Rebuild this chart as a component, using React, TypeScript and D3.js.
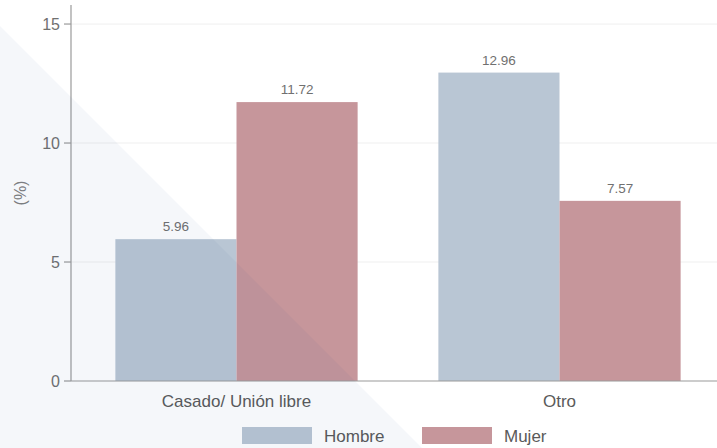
import React from "react";
import * as d3 from "d3";

const categories = ["Casado/ Unión libre", "Otro"];
const series = ["Hombre", "Mujer"];
const hombre = [5.96, 12.96];
const mujer = [11.72, 7.57];
const yTicks = [0, 5, 10, 15];
const colors = ["#b9c6d4", "#c6969b"];

const W = 717;
const H = 448;

export default function App() {
  const values = [hombre, mujer];
  const x0 = d3.scaleBand<string>().domain(categories).range([75, 721]).paddingInner(0.25).paddingOuter(0.125);
  const x1 = d3.scaleBand<string>().domain(series).range([0, x0.bandwidth()]);
  const y = d3.scaleLinear().domain([0, 15.8]).range([381, 5]);
  const font = "'Liberation Sans', Arial, Helvetica, sans-serif";
  return (
    <svg width={W} height={H} style={{ position: "absolute", left: 0, top: 0, display: "block" }} fontFamily={font}>
      <rect x={0} y={0} width={W} height={H} fill="#ffffff" />
      {yTicks.filter((t) => t > 0).map((t) => (
        <line key={"g" + t} x1={71} x2={W} y1={y(t)} y2={y(t)} stroke="#efefef" strokeWidth={1} />
      ))}
      {categories.map((c, i) => (
        <g key={c} transform={`translate(${x0(c)},0)`}>
          {series.map((s, j) => {
            const v = values[j][i];
            const bx = x1(s)!;
            return (
              <g key={s}>
                <rect x={bx} y={y(v)} width={x1.bandwidth()} height={y(0) - y(v)} fill={colors[j]} />
                <text x={bx + x1.bandwidth() / 2} y={y(v) - 8} textAnchor="middle" fontSize={13.5} fill="#707070">
                  {v.toFixed(2)}
                </text>
              </g>
            );
          })}
        </g>
      ))}
      <line x1={71} x2={W} y1={y(0)} y2={y(0)} stroke="#9a9a9a" strokeWidth={1.2} />
      <line x1={71} x2={71} y1={5} y2={y(0)} stroke="#9a9a9a" strokeWidth={1.2} />
      {yTicks.map((t) => (
        <g key={"t" + t}>
          <line x1={64} x2={71} y1={y(t)} y2={y(t)} stroke="#9a9a9a" strokeWidth={1.2} />
          <text x={60} y={y(t)} dy="0.35em" textAnchor="end" fontSize={16} fill="#707070">
            {t}
          </text>
        </g>
      ))}
      <text transform={`translate(26,${193}) rotate(-90)`} textAnchor="middle" fontSize={16} fill="#808080">
        (%)
      </text>
      {categories.map((c) => (
        <text key={"c" + c} x={x0(c)! + x0.bandwidth() / 2} y={407} textAnchor="middle" fontSize={17} fill="#5a5a5a">
          {c}
        </text>
      ))}
      {series.map((s, j) => (
        <g key={"l" + s} transform={`translate(${242 + j * 180},427)`}>
          <rect x={0} y={0} width={70} height={17} fill={colors[j]} />
          <text x={82} y={9} dy="0.35em" fontSize={17} fill="#5a5a5a">
            {s}
          </text>
        </g>
      ))}
      <polygon points={`0,26 ${448 - 26},448 0,448`} fill="#1e3c8c" fillOpacity={0.045} />
    </svg>
  );
}
